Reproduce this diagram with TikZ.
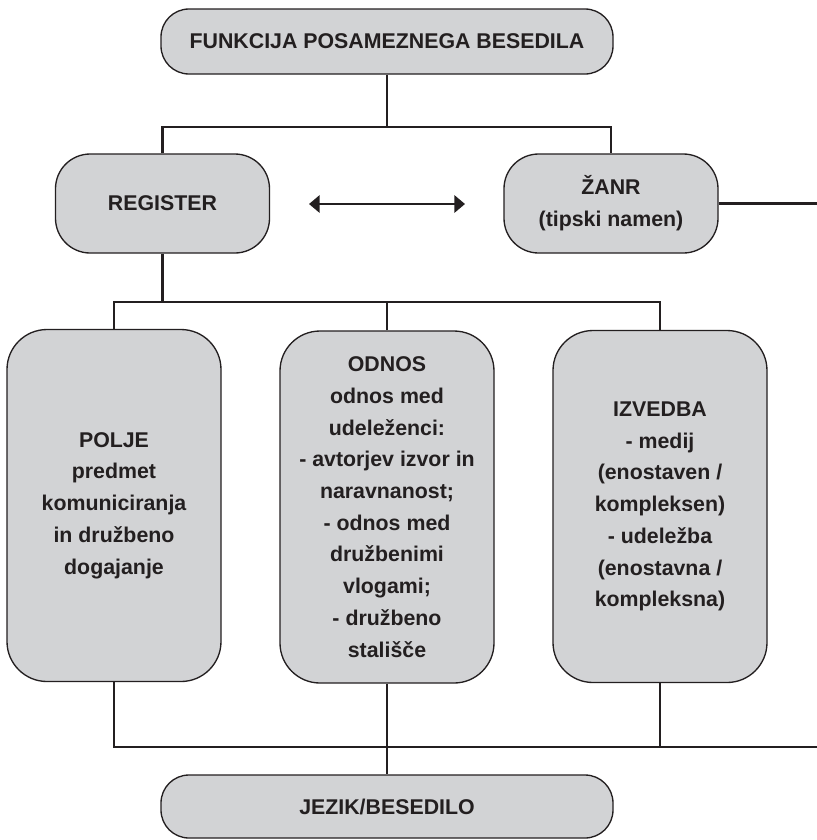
\documentclass[tikz,border=0pt]{standalone}
\usepackage{fontspec}
\setmainfont{Liberation Sans}
\usetikzlibrary{arrows.meta}
\definecolor{boxgray}{RGB}{210,211,213}
\definecolor{ink}{RGB}{35,31,32}
\tikzset{
  box/.style={draw=ink, fill=boxgray, line width=1pt, inner sep=0pt, align=center, text=ink,
    font=\fontsize{16}{23.8}\selectfont\bfseries},
  widebox/.style={box, minimum width=339pt, minimum height=48.75pt, rounded corners=21pt},
  midbox/.style={box, minimum width=160.5pt, minimum height=74.25pt, rounded corners=26pt},
  tallbox/.style={box, minimum width=160.5pt, minimum height=264pt, rounded corners=30pt},
  link/.style={draw=ink, line width=1.7pt}
}
\begin{document}
\begin{tikzpicture}[x=0.75pt,y=-0.75pt]
  \useasboundingbox (0,0) rectangle (817,840);
  \node[widebox] (func) at (387,41.5) {FUNKCIJA POSAMEZNEGA BESEDILA};
  \node[midbox] (register) at (162.5,203.5) {REGISTER};
  \node[midbox] (zanr) at (611,203.5) {ŽANR\\(tipski namen)};
  \node[tallbox] (polje) at (114,505.5) {POLJE\\predmet\\komuniciranja\\in družbeno\\dogajanje};
  \node[tallbox] (odnos) at (387,507) {ODNOS\\odnos med\\udeleženci:\\- avtorjev izvor in\\naravnanost;\\- odnos med\\družbenimi\\vlogami;\\- družbeno\\stališče};
  \node[tallbox] (izvedba) at (660,506.5) {IZVEDBA\\- medij\\(enostaven /\\kompleksen)\\- udeležba\\(enostavna /\\kompleksna)};
  \node[widebox, minimum height=47.25pt] (jezik) at (387,806.5) {JEZIK/BESEDILO};
  \coordinate (t1) at (387,127);
  \coordinate (t2) at (162.5,302);
  \coordinate (b1) at (387,747);
  \coordinate (bend) at (817,747);
  \coordinate (zend) at (817,203.5);
  \coordinate (al) at (309,204);
  \coordinate (ar) at (465,204);
  \path[link] (func) -- (t1);
  \path[link] (register.north) |- (t1) -| (zanr.north);
  \path[link] (register) -- (t2);
  \path[link] (polje.north) |- (t2) -| (izvedba.north);
  \path[link] (odnos.north) -- (odnos.north |- t2);
  \path[link] (zanr) -- (zend);
  \path[link] (polje.south) |- (bend);
  \path[link] (izvedba.south) -- (izvedba.south |- b1);
  \path[link] (odnos) -- (jezik);
  \path[link, {Triangle[length=8pt,width=13pt]}-{Triangle[length=8pt,width=13pt]}] (al) -- (ar);
\end{tikzpicture}
\end{document}
